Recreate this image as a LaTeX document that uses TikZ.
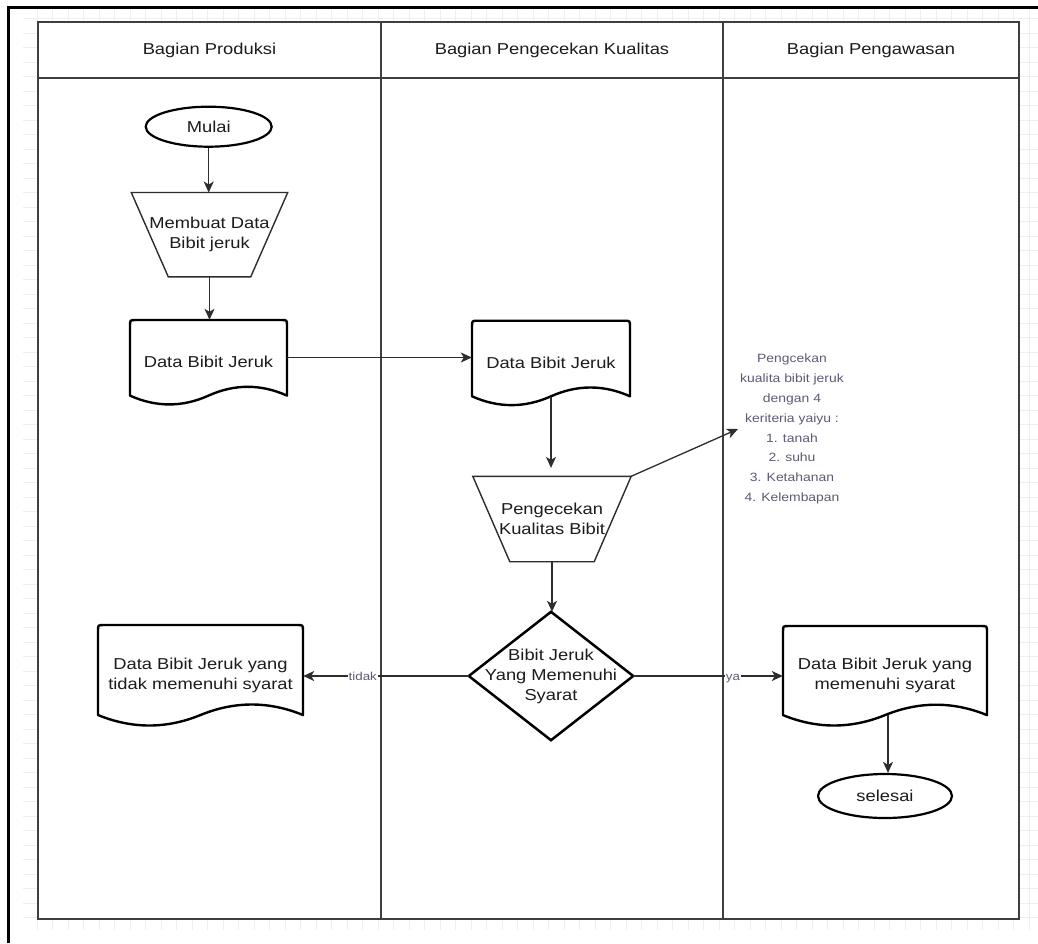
\documentclass[tikz,border=0pt]{standalone}
\usepackage{fontspec}
\setmainfont{Liberation Sans}[FakeStretch=1.16]
\usetikzlibrary{shapes.geometric,arrows.meta}

\definecolor{ink}{RGB}{28,28,28}
\definecolor{lanegray}{RGB}{62,62,62}
\definecolor{wire}{RGB}{45,45,45}
\definecolor{gridgray}{RGB}{239,239,239}
\definecolor{soft}{RGB}{92,92,118}

% document symbol: flat top with rounded corners, wavy bottom
\newcommand\docoutline[3]{% node name, width, height
  \begin{scope}[shift={(#1.center)}]
    \pgfmathsetmacro\dL{-#2/2}
    \pgfmathsetmacro\dR{#2/2}
    \pgfmathsetmacro\dT{-#3/2}
    \pgfmathsetmacro\dB{#3/2-0.1*#3}
    \pgfmathsetmacro\dU{#3/2-0.24*#3}
    \pgfmathsetmacro\dD{#3/2+0.04*#3}
    \pgfmathsetmacro\cA{#2/3}
    \pgfmathsetmacro\cB{#2/6}
    \draw[docline] ({\dL},{\dB}) -- ({\dL},{\dT+6}) .. controls ({\dL},{\dT}) .. ({\dL+6},{\dT})
      -- ({\dR-6},{\dT}) .. controls ({\dR},{\dT}) .. ({\dR},{\dT+6}) -- ({\dR},{\dB})
      .. controls ({\cA},{\dU}) and ({\cB},{\dU}) .. (0,{\dB})
      .. controls ({-\cB},{\dD}) and ({-\cA},{\dD}) .. ({\dL},{\dB}) -- cycle;
  \end{scope}}

% manual operation symbol: wide top, narrow bottom
\newcommand\trapoutline[2]{% node name, inset of the bottom corners
  \draw[trapline] (#1.north west) -- (#1.north east)
    -- ([xshift=-#2pt]#1.south east) -- ([xshift=#2pt]#1.south west) -- cycle;}

% decision symbol
\newcommand\diamondoutline[1]{%
  \draw[decisionline] (#1.north) -- (#1.east) -- (#1.south) -- (#1.west) -- cycle;}

\begin{document}
\begin{tikzpicture}[x=1pt,y=-1pt,
  every node/.style={font=\fontsize{15.8}{20}\selectfont, text=ink},
  lanebox/.style={draw=lanegray, line width=1.6pt},
  gridline/.style={draw=gridgray, line width=0.8pt},
  term/.style={ellipse, draw=black, line width=2.2pt, fill=white, inner sep=0pt},
  plainbox/.style={draw=none, inner sep=0pt, align=center},
  docline/.style={draw=black, line width=2.4pt, line join=round},
  trapline/.style={draw=wire, line width=1.4pt},
  decisionline/.style={draw=black, line width=2.5pt},
  flow/.style={draw=wire, line width=1.3pt, -{Stealth[length=11pt,width=10pt,inset=3pt]}},
  notetext/.style={font=\fontsize{12}{19.8}\selectfont, text=soft, align=center, inner sep=2pt},
  edgelabel/.style={font=\fontsize{11.5}{13}\selectfont, text=soft, fill=white, inner sep=0.6pt},
]
\useasboundingbox (0,0) rectangle (1038,943);

% faint canvas grid
\foreach \gx in {37,52.5,...,1038} \draw[gridline] (\gx,9) -- (\gx,930);
\foreach \gy in {917.5,903,...,9} \draw[gridline] (23,\gy) -- (1038,\gy);

% swimlanes
\fill[white] (38,21.7) rectangle (1019,919);
\draw[lanebox] (38,21.7) rectangle (381,919);
\draw[lanebox] (381,21.7) rectangle (723,919);
\draw[lanebox] (723,21.7) rectangle (1019,919);
\draw[lanebox] (38,78) -- (1019,78);

\node (h1) at (209.5,50) {Bagian Produksi};
\node (h2) at (552,50) {Bagian Pengecekan Kualitas};
\node (h3) at (871,50) {Bagian Pengawasan};

% outer frame
\draw[black, line width=3pt] (8,943) -- (8,7) -- (1038,7);

% lane 1
\node[term, minimum width=126pt, minimum height=40pt] (mulai) at (208.7,126.7) {Mulai};
\node[plainbox, minimum width=156pt, minimum height=84pt] (buat) at (209.5,234.7) {Membuat Data\\Bibit jeruk};
\trapoutline{buat}{37}
\node[plainbox, minimum width=157pt, minimum height=84pt] (doc1) at (208.5,362) {Data Bibit Jeruk};
\docoutline{doc1}{157}{84}
\node[plainbox, minimum width=205pt, minimum height=100pt] (doc3) at (200.5,675) {Data Bibit Jeruk yang\\tidak memenuhi syarat};
\docoutline{doc3}{205}{100}

% lane 2
\node[plainbox, minimum width=158pt, minimum height=84pt] (doc2) at (551,362.7) {Data Bibit Jeruk};
\docoutline{doc2}{158}{84}
\node[plainbox, minimum width=158pt, minimum height=85pt] (cek) at (552,519) {Pengecekan\\Kualitas Bibit};
\trapoutline{cek}{37}
\node[plainbox, minimum width=164pt, minimum height=128pt] (syarat) at (551,676) {Bibit Jeruk\\Yang Memenuhi\\Syarat};
\diamondoutline{syarat}

% lane 3
\node[notetext] (note) at (792,429) {Pengcekan\\kualita bibit jeruk\\dengan 4\\keriteria yaiyu :\\1. tanah\\2. suhu\\3. Ketahanan\\4. Kelembapan};
\node[plainbox, minimum width=204pt, minimum height=99pt] (doc4) at (885,675.5) {Data Bibit Jeruk yang\\memenuhi syarat};
\docoutline{doc4}{204}{99}
\node[term, minimum width=134pt, minimum height=44pt] (selesai) at (885,796) {selesai};

% connectors
\draw[flow] (mulai.south) -- (mulai.south |- buat.north);
\draw[flow] (buat.south) -- (buat.south |- doc1.north);
\draw[flow] ([yshift=4.5pt]doc1.east) -- ([yshift=4.5pt]doc1.east -| doc2.west);
\draw[flow] ([yshift=8.4pt]doc2.south) -- ([yshift=8.4pt]doc2.south |- cek.north);
\draw[flow] (cek.south) -- (cek.south |- syarat.north);
\draw[flow] (cek.north east) -- (note.west);
\draw[flow] (syarat.west) -- (syarat.west -| doc3.east)
  node[edgelabel, pos=0.64] {tidak};
\draw[flow] (syarat.east) -- (syarat.east -| doc4.west)
  node[edgelabel, pos=0.667, yshift=-3pt] {ya};
\draw[flow] ([xshift=3pt,yshift=9.9pt]doc4.south) -- ([xshift=3pt]selesai.north);
\end{tikzpicture}
\end{document}
